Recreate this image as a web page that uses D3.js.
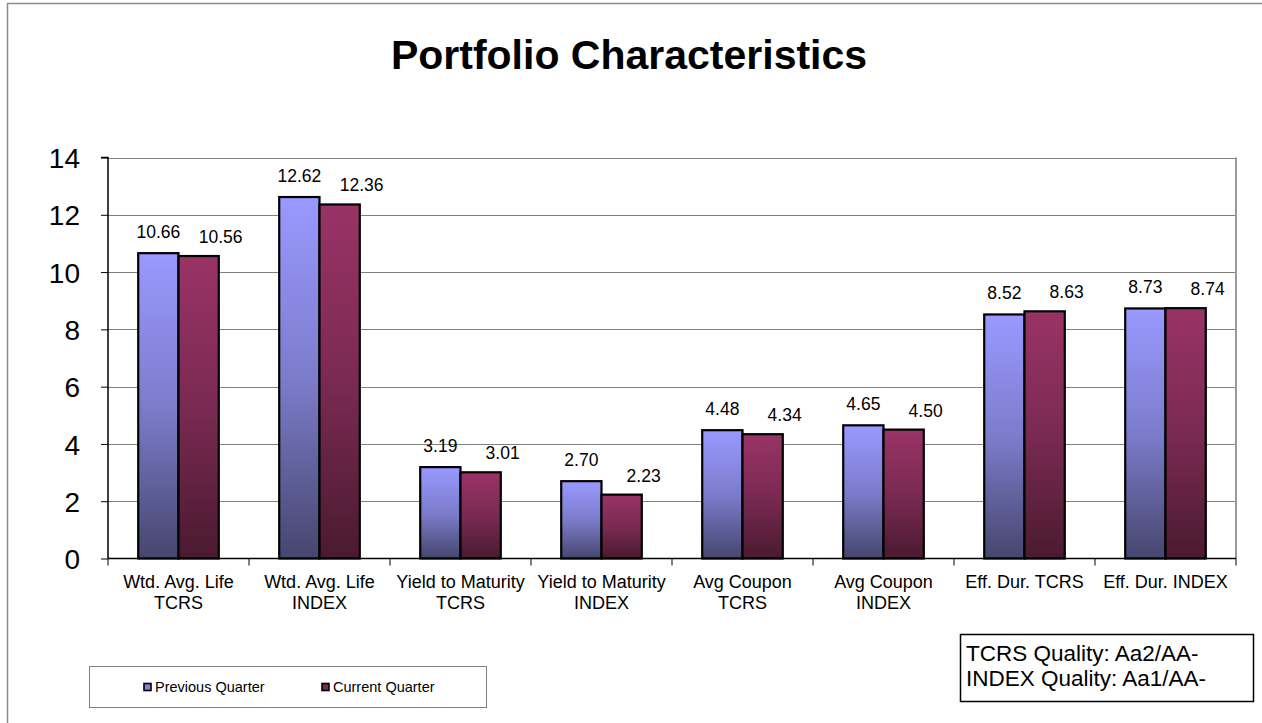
<!DOCTYPE html>
<html><head><meta charset="utf-8">
<script src="https://cdn.jsdelivr.net/npm/d3@7"></script>
<style>
html,body{margin:0;padding:0;background:#fff;}
svg{display:block;font-family:"Liberation Sans",Arial,Helvetica,sans-serif;}
</style></head>
<body>
<svg id="chart" width="1262" height="723"></svg>
<script>
const title = "Portfolio Characteristics";
const categories = ["Wtd. Avg. Life TCRS","Wtd. Avg. Life INDEX","Yield to Maturity TCRS","Yield to Maturity INDEX","Avg Coupon TCRS","Avg Coupon INDEX","Eff. Dur. TCRS","Eff. Dur. INDEX"];
const seriesNames = ["Previous Quarter","Current Quarter"];
const previousQuarter = [10.66,12.62,3.19,2.70,4.48,4.65,8.52,8.73];
const currentQuarter = [10.56,12.36,3.01,2.23,4.34,4.50,8.63,8.74];
const yTicks = [0,2,4,6,8,10,12,14];
const qualityNotes = ["TCRS Quality: Aa2/AA-","INDEX Quality: Aa1/AA-"];

(function(){
const seriesValues = [previousQuarter, currentQuarter];
const seriesGrad = [
  ["#9999FF","#7C7CCC","#46466E"],
  ["#993366","#7A2A52","#4A1A30"]
];
const seriesSwatch = ["#8080D8","#7A2A52"];
const labelDx = [0, 22];
const labelDy = [-15, -13];

const svg = d3.select("#chart");
const font = '"Liberation Sans",Arial,Helvetica,sans-serif';

// outer chart border
svg.append("rect").attr("x",7.5).attr("y",3.5).attr("width",1400).attr("height",900)
  .attr("fill","none").attr("stroke","#8c8c8c").attr("stroke-width",1.5);

// title
svg.append("text").attr("x",629).attr("y",69).attr("text-anchor","middle")
  .attr("font-size",41).attr("font-weight","bold").attr("fill","#000").text(title);

const pLeft = 108, pRight = 1236, pTop = 157.5, pBottom = 558.5;
const x = d3.scaleBand().domain(categories).range([pLeft,pRight]).padding(0);
const xs = d3.scaleBand().domain(seriesNames).range([0,x.bandwidth()]).paddingInner(0).paddingOuter(0.75);
const y = d3.scaleLinear().domain([0,14]).range([pBottom,pTop]);

// gradients
const defs = svg.append("defs");
seriesGrad.forEach((g,i)=>{
  const lg = defs.append("linearGradient").attr("id","grad"+i)
    .attr("x1",0).attr("y1",0).attr("x2",0).attr("y2",1);
  lg.append("stop").attr("offset","0%").attr("stop-color",g[0]);
  lg.append("stop").attr("offset","50%").attr("stop-color",g[1]);
  lg.append("stop").attr("offset","100%").attr("stop-color",g[2]);
});

// gridlines
svg.append("g").selectAll("line").data(yTicks.filter(t=>t>0)).join("line")
  .attr("x1",pLeft).attr("x2",pRight)
  .attr("y1",d=>Math.round(y(d))+0.5).attr("y2",d=>Math.round(y(d))+0.5)
  .attr("stroke","#808080").attr("stroke-width",1);
// right border
svg.append("line").attr("x1",pRight).attr("x2",pRight).attr("y1",pTop).attr("y2",pBottom)
  .attr("stroke","#999").attr("stroke-width",2);

// bars
const gBars = svg.append("g");
seriesNames.forEach((s,si)=>{
  gBars.selectAll("rect.s"+si).data(categories).join("rect")
    .attr("class","s"+si)
    .attr("x",c=>x(c)+xs(s))
    .attr("width",xs.bandwidth())
    .attr("y",(c,i)=>y(seriesValues[si][i]))
    .attr("height",(c,i)=>y(0)-y(seriesValues[si][i]))
    .attr("fill","url(#grad"+si+")")
    .attr("stroke","#000").attr("stroke-width",2.2);
});

// data labels
seriesNames.forEach((s,si)=>{
  svg.append("g").selectAll("text").data(categories).join("text")
    .attr("x",c=>x(c)+xs(s)+xs.bandwidth()/2+labelDx[si])
    .attr("y",(c,i)=>y(seriesValues[si][i])+labelDy[si])
    .attr("text-anchor","middle").attr("font-size",17.5).attr("fill","#000")
    .text((c,i)=>seriesValues[si][i].toFixed(2));
});

// y axis
const yAxis = d3.axisLeft(y).tickValues(yTicks).tickSize(7).tickPadding(21).tickFormat(d3.format("d"));
const gy = svg.append("g").attr("transform",`translate(${pLeft},0)`).call(yAxis);
gy.select(".domain").attr("stroke","#000").attr("stroke-width",1.5).attr("d",`M-7,${pTop}H0V${pBottom}`);
gy.selectAll(".tick line").attr("stroke","#000");
gy.selectAll(".tick text").attr("font-size",28).attr("font-family",font).attr("fill","#000").attr("dy","0.36em");

// x axis
const gx = svg.append("g").attr("transform",`translate(0,${pBottom})`);
gx.append("line").attr("x1",pLeft).attr("x2",pRight).attr("stroke","#000").attr("stroke-width",1.5);
gx.selectAll("line.tk").data(categories.concat(["__end"])).join("line").attr("class","tk")
  .attr("x1",(c,i)=>i<categories.length?x(c):pRight).attr("x2",(c,i)=>i<categories.length?x(c):pRight)
  .attr("y1",0).attr("y2",7).attr("stroke","#000").attr("stroke-width",1);

// wrapped category labels
const meas = svg.append("text").attr("font-size",18).attr("visibility","hidden");
function tw(s){ meas.text(s); return meas.node().getComputedTextLength(); }
categories.forEach(c=>{
  const words = c.split(" ");
  const lines = []; let cur = "";
  words.forEach(w=>{
    const t = cur ? cur+" "+w : w;
    if (tw(t) > x.bandwidth()-4 && cur){ lines.push(cur); cur = w; } else cur = t;
  });
  if (cur) lines.push(cur);
  const t = gx.append("text").attr("text-anchor","middle").attr("font-size",18).attr("fill","#000");
  lines.forEach((l,li)=>{
    t.append("tspan").attr("x",x(c)+x.bandwidth()/2).attr("y",29+li*21).text(l);
  });
});
meas.remove();

// legend
const lg = svg.append("g");
lg.append("rect").attr("x",89.5).attr("y",666.5).attr("width",397).attr("height",41)
  .attr("fill","#fff").attr("stroke","#808080").attr("stroke-width",1);
const legX = [144, 322];
seriesNames.forEach((s,i)=>{
  lg.append("rect").attr("x",legX[i]).attr("y",683.5).attr("width",7).attr("height",7)
    .attr("fill",seriesSwatch[i]).attr("stroke","#000").attr("stroke-width",1.6);
  lg.append("text").attr("x",legX[i]+11).attr("y",692).attr("font-size",14.5).attr("fill","#000").text(s);
});

// quality box
const qb = svg.append("g");
qb.append("rect").attr("x",960.5).attr("y",634.5).attr("width",293).attr("height",67)
  .attr("fill","#fff").attr("stroke","#000").attr("stroke-width",1.5);
qualityNotes.forEach((q,i)=>{
  qb.append("text").attr("x",966).attr("y",661+i*25).attr("font-size",22.5).attr("fill","#000").text(q);
});
})();
</script>
</body></html>
